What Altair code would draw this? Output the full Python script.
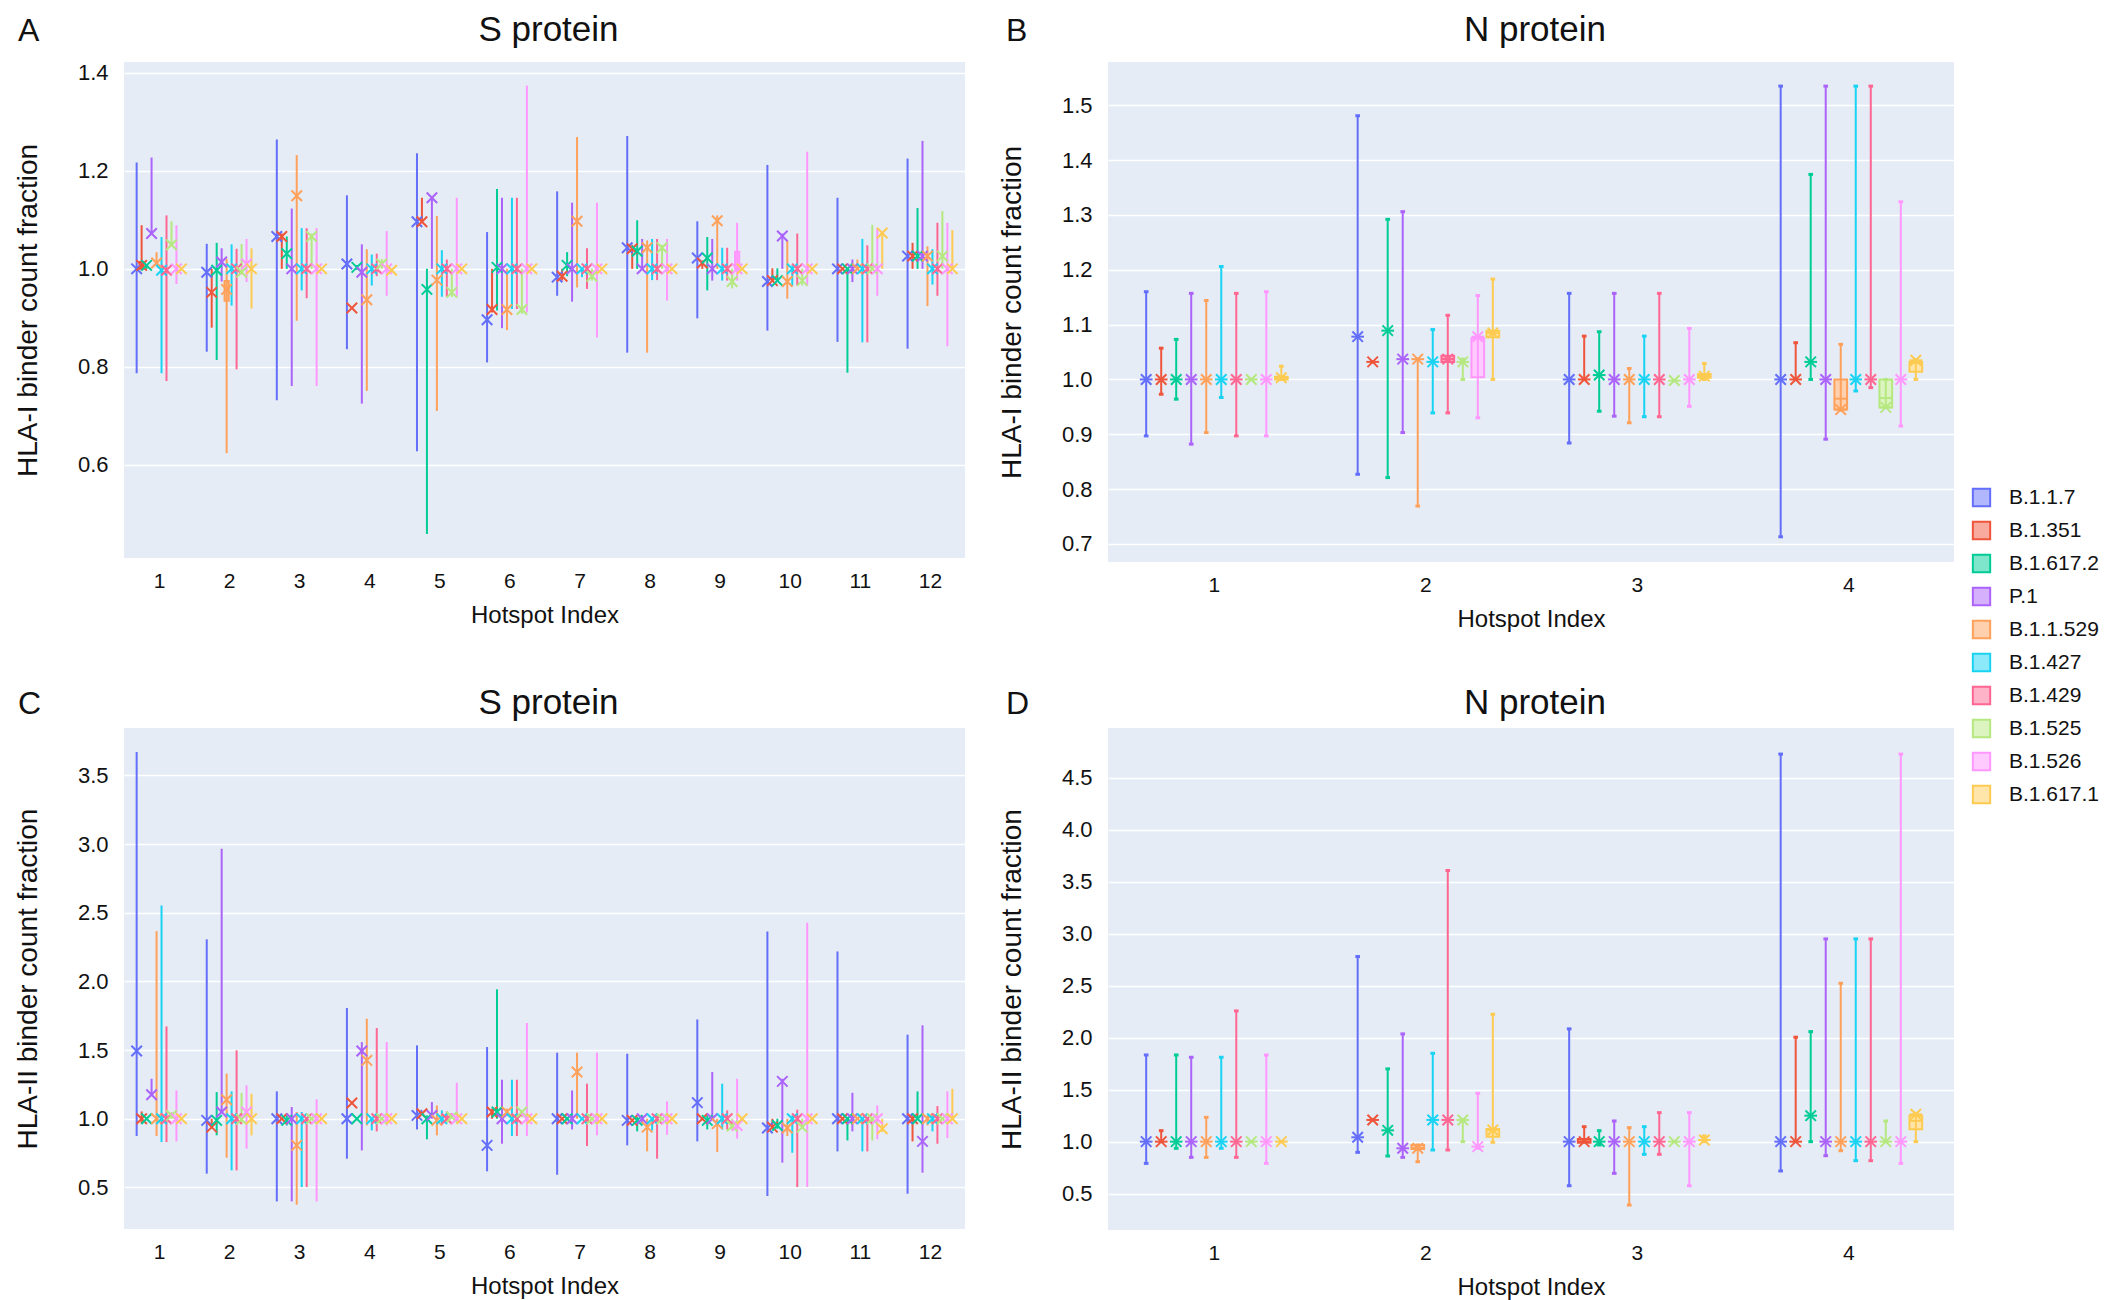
import altair as alt
import pandas as pd

FONT = "Liberation Sans"
VARIANTS = ["B.1.1.7", "B.1.351", "B.1.617.2", "P.1", "B.1.1.529",
            "B.1.427", "B.1.429", "B.1.525", "B.1.526", "B.1.617.1"]
COLORS = ["#636EFA", "#EF553B", "#00CC96", "#AB63FA", "#FFA15A",
          "#19D3F3", "#FF6692", "#B6E880", "#FF97FF", "#FECB52"]
# the same colours at half strength, used for box / legend fills
LIGHT = ["#B1B7FD", "#F7AA9D", "#80E6CB", "#D5B1FD", "#FFD0AD",
         "#8CE9F9", "#FFB3C9", "#DBF4C0", "#FFCBFF", "#FFE5A9"]

# ---------------- Panel A : S protein, HLA-I ----------------
A_MAX = [
    [1.217, 1.089, 1.010, 1.227, 1.034, 1.065, 1.109, 1.097, 1.089, 1.000],
    [1.051, 1.000, 1.053, 1.042, 1.020, 1.050, 1.041, 1.051, 1.061, 1.042],
    [1.264, 1.072, 1.066, 1.123, 1.232, 1.083, 1.083, 1.072, 1.083, 1.000],
    [1.150, 0.920, 1.008, 1.050, 1.040, 1.029, 1.031, 1.020, 1.077, 1.000],
    [1.236, 1.145, 1.000, 1.145, 1.108, 1.038, 1.019, 1.000, 1.145, 1.000],
    [1.075, 1.000, 1.163, 1.145, 1.000, 1.145, 1.145, 1.000, 1.374, 1.000],
    [1.158, 1.000, 1.034, 1.135, 1.269, 1.000, 1.042, 1.000, 1.135, 1.000],
    [1.271, 1.049, 1.099, 1.061, 1.058, 1.061, 1.061, 1.049, 1.061, 1.000],
    [1.097, 1.017, 1.065, 1.061, 1.109, 1.043, 1.043, 1.000, 1.094, 1.000],
    [1.212, 1.001, 1.001, 1.072, 1.058, 1.007, 1.072, 1.000, 1.239, 1.000],
    [1.145, 1.000, 1.000, 1.019, 1.019, 1.061, 1.048, 1.090, 1.083, 1.073],
    [1.225, 1.053, 1.124, 1.261, 1.046, 1.040, 1.094, 1.118, 1.094, 1.079],
]
A_MIN = [
    [0.787, 0.997, 1.000, 1.072, 1.007, 0.787, 0.771, 1.048, 0.969, 1.000],
    [0.831, 0.880, 0.814, 0.974, 0.624, 0.925, 0.795, 0.990, 0.973, 0.919],
    [0.732, 1.000, 1.000, 0.761, 0.894, 0.956, 0.940, 1.000, 0.761, 1.000],
    [0.836, 0.920, 0.998, 0.725, 0.751, 0.966, 0.985, 1.000, 0.945, 0.995],
    [0.628, 1.096, 0.459, 1.000, 0.710, 0.943, 0.943, 0.943, 0.943, 1.000],
    [0.809, 0.911, 0.915, 0.879, 0.875, 0.918, 0.918, 0.908, 0.911, 1.000],
    [0.945, 0.976, 0.985, 0.933, 0.962, 0.983, 0.959, 0.976, 0.860, 1.000],
    [0.829, 1.000, 1.000, 1.000, 0.829, 0.977, 0.977, 1.000, 0.935, 1.000],
    [0.899, 1.000, 0.956, 0.976, 1.000, 0.976, 0.976, 0.960, 0.976, 1.000],
    [0.874, 0.974, 0.974, 1.000, 0.939, 0.966, 0.966, 0.966, 0.966, 1.000],
    [0.851, 1.000, 0.788, 0.973, 1.000, 0.850, 0.850, 1.000, 0.945, 1.000],
    [0.837, 1.000, 1.000, 1.000, 0.924, 0.968, 0.945, 1.000, 0.842, 1.000],
]
A_MARK = [
    [1.000, 1.007, 1.007, 1.072, 1.012, 0.997, 0.997, 1.049, 1.000, 1.000],
    [0.993, 0.952, 0.997, 1.014, 0.958, 1.000, 1.000, 0.993, 1.010, 1.000],
    [1.066, 1.066, 1.031, 1.000, 1.149, 1.000, 1.000, 1.066, 1.000, 1.000],
    [1.010, 0.920, 1.003, 0.993, 0.937, 1.000, 1.000, 1.010, 1.000, 0.997],
    [1.096, 1.096, 0.958, 1.145, 0.977, 1.000, 1.000, 0.952, 1.000, 1.000],
    [0.896, 0.917, 1.003, 1.000, 0.917, 1.000, 1.000, 0.917, 1.000, 1.000],
    [0.983, 0.985, 1.007, 1.000, 1.097, 1.000, 1.000, 0.985, 1.000, 1.000],
    [1.043, 1.041, 1.036, 1.000, 1.043, 1.000, 1.000, 1.043, 1.000, 1.000],
    [1.022, 1.012, 1.022, 1.000, 1.098, 1.000, 1.000, 0.974, 1.000, 1.000],
    [0.974, 0.976, 0.976, 1.067, 0.974, 1.000, 1.000, 0.976, 1.000, 1.000],
    [1.000, 1.000, 1.000, 1.000, 1.000, 1.000, 1.000, 1.000, 1.000, 1.073],
    [1.026, 1.026, 1.026, 1.026, 1.026, 1.000, 1.000, 1.026, 1.000, 1.000],
]
# (hotspot, variant index, q1, median, q3)
A_BOX = [(1, 1, 1.000, 1.007, 1.014), (2, 4, 0.935, 0.958, 0.975), (9, 8, 1.000, 1.000, 1.035)]

# ---------------- Panel B : N protein, HLA-I ----------------
B_MAX = [
    [1.160, 1.057, 1.073, 1.157, 1.144, 1.206, 1.157, 1.000, 1.160, 1.024],
    [1.481, 1.032, 1.292, 1.306, 1.037, 1.091, 1.117, 1.037, 1.153, 1.183],
    [1.157, 1.079, 1.087, 1.157, 1.020, 1.079, 1.157, 0.998, 1.093, 1.029],
    [1.535, 1.067, 1.374, 1.535, 1.064, 1.535, 1.535, 1.000, 1.324, 1.036],
]
B_MIN = [
    [0.897, 0.973, 0.964, 0.882, 0.903, 0.967, 0.897, 1.000, 0.897, 1.000],
    [0.827, 1.032, 0.821, 0.903, 0.769, 0.939, 0.939, 1.000, 0.930, 1.000],
    [0.884, 1.000, 0.942, 0.933, 0.921, 0.932, 0.932, 0.998, 0.951, 1.000],
    [0.713, 1.000, 1.000, 0.891, 0.944, 0.979, 0.985, 0.949, 0.915, 1.000],
]
B_MARK = [
    [1.000, 1.000, 1.000, 1.000, 1.000, 1.000, 1.000, 1.000, 1.000, 1.003],
    [1.078, 1.032, 1.089, 1.037, 1.037, 1.032, 1.037, 1.032, 1.078, 1.085],
    [1.000, 1.000, 1.008, 1.000, 1.000, 1.000, 1.000, 0.998, 1.000, 1.006],
    [1.000, 1.000, 1.032, 1.000, 0.945, 1.000, 1.000, 0.949, 1.000, 1.035],
]
B_BOX = [(1, 9, 1.000, 1.003, 1.005), (2, 6, 1.032, 1.037, 1.043), (2, 8, 1.004, 1.075, 1.075),
         (2, 9, 1.077, 1.085, 1.089), (3, 9, 1.003, 1.006, 1.010), (4, 4, 0.945, 0.965, 1.000),
         (4, 7, 0.949, 0.966, 1.000), (4, 9, 1.014, 1.030, 1.032)]

# ---------------- Panel C : S protein, HLA-II ----------------
C_MAX = [
    [3.670, 1.053, 1.000, 1.291, 2.366, 2.553, 1.672, 1.049, 1.206, 1.000],
    [2.306, 1.000, 1.194, 2.966, 1.328, 1.199, 1.498, 1.189, 1.243, 1.182],
    [1.199, 1.000, 1.024, 1.085, 1.049, 1.049, 1.000, 1.000, 1.141, 1.000],
    [1.806, 1.114, 1.000, 1.558, 1.728, 1.000, 1.660, 1.000, 1.558, 1.000],
    [1.534, 1.036, 1.024, 1.121, 1.097, 1.061, 1.053, 1.036, 1.262, 1.000],
    [1.522, 1.073, 1.942, 1.284, 1.073, 1.284, 1.284, 1.061, 1.697, 1.000],
    [1.481, 1.000, 1.000, 1.206, 1.481, 1.000, 1.255, 1.000, 1.481, 1.000],
    [1.473, 1.000, 1.012, 1.024, 1.000, 1.012, 1.024, 1.000, 1.126, 1.000],
    [1.723, 1.000, 1.024, 1.340, 1.000, 1.255, 1.061, 1.000, 1.291, 1.000],
    [2.364, 1.000, 1.000, 1.291, 1.000, 1.024, 1.066, 1.000, 2.427, 1.000],
    [2.218, 1.000, 1.000, 1.189, 1.000, 1.012, 1.012, 1.000, 1.097, 1.000],
    [1.612, 1.024, 1.199, 1.680, 1.024, 1.024, 1.092, 1.000, 1.199, 1.218],
]
C_MIN = [
    [0.874, 0.964, 1.000, 1.170, 0.874, 0.830, 0.830, 1.000, 0.835, 1.000],
    [0.600, 0.927, 0.879, 1.049, 0.716, 0.624, 0.624, 0.964, 0.782, 0.879],
    [0.398, 1.000, 0.951, 0.398, 0.374, 0.502, 0.502, 1.000, 0.398, 1.000],
    [0.709, 1.114, 1.000, 0.769, 0.951, 0.915, 0.908, 1.000, 0.951, 1.000],
    [0.922, 1.036, 0.850, 1.000, 0.879, 0.964, 0.976, 1.000, 0.976, 1.000],
    [0.617, 1.000, 1.000, 0.818, 1.024, 0.874, 0.874, 1.012, 0.874, 1.000],
    [0.592, 1.000, 1.000, 0.922, 1.000, 1.000, 0.801, 1.000, 0.879, 1.000],
    [0.806, 0.988, 0.908, 0.964, 0.762, 0.915, 0.709, 1.000, 0.883, 1.000],
    [0.835, 1.000, 0.922, 1.000, 0.757, 0.922, 0.922, 0.915, 0.854, 1.000],
    [0.437, 0.927, 0.927, 0.680, 0.874, 0.752, 0.502, 0.927, 0.502, 1.000],
    [0.762, 1.000, 0.842, 0.908, 1.000, 0.762, 0.762, 0.842, 0.850, 0.903],
    [0.454, 0.835, 1.000, 0.607, 0.951, 0.908, 0.818, 1.000, 0.859, 1.000],
]
C_MARK = [
    [1.493, 1.000, 1.000, 1.175, 1.000, 1.000, 1.000, 1.024, 1.000, 1.000],
    [0.988, 0.939, 0.988, 1.049, 1.138, 1.000, 1.000, 0.995, 1.049, 1.000],
    [1.000, 1.000, 0.988, 1.000, 0.806, 1.000, 1.000, 1.000, 1.000, 1.000],
    [1.000, 1.114, 1.000, 1.493, 1.425, 1.000, 1.000, 1.000, 1.000, 1.000],
    [1.024, 1.036, 1.000, 1.024, 0.988, 1.000, 1.000, 1.012, 1.000, 1.000],
    [0.806, 1.049, 1.049, 1.000, 1.049, 1.000, 1.000, 1.049, 1.000, 1.000],
    [1.000, 1.000, 1.000, 1.000, 1.340, 1.000, 1.000, 1.000, 1.000, 1.000],
    [0.988, 0.988, 0.988, 1.000, 0.939, 1.000, 1.000, 1.000, 1.000, 1.000],
    [1.117, 1.000, 0.988, 1.000, 0.964, 1.000, 1.000, 0.947, 0.951, 1.000],
    [0.932, 0.939, 0.951, 1.272, 0.932, 1.000, 1.000, 0.939, 1.000, 1.000],
    [1.000, 1.000, 1.000, 1.000, 1.000, 1.000, 1.000, 1.000, 1.000, 0.927],
    [1.000, 1.000, 1.000, 0.835, 1.000, 1.000, 1.000, 1.000, 1.000, 1.000],
]
C_BOX = []

# ---------------- Panel D : N protein, HLA-II ----------------
D_MAX = [
    [1.834, 1.106, 1.834, 1.812, 1.234, 1.812, 2.258, 1.000, 1.834, 1.000],
    [2.781, 1.209, 1.700, 2.037, 0.968, 1.850, 3.609, 1.209, 1.465, 2.226],
    [2.085, 1.144, 1.106, 1.199, 1.135, 1.144, 1.279, 1.000, 1.279, 1.055],
    [4.729, 2.005, 2.059, 2.951, 2.524, 2.951, 2.951, 1.199, 4.729, 1.273],
]
D_MIN = [
    [0.791, 1.000, 0.936, 0.849, 0.849, 0.936, 0.849, 1.000, 0.791, 1.000],
    [0.897, 1.209, 0.862, 0.849, 0.807, 0.920, 0.920, 1.000, 0.936, 0.994],
    [0.576, 1.000, 0.968, 0.695, 0.390, 0.878, 0.878, 1.000, 0.576, 1.000],
    [0.718, 1.000, 1.000, 0.865, 0.913, 0.817, 0.817, 1.000, 0.791, 1.000],
]
D_MARK = [
    [1.000, 1.000, 1.000, 1.000, 1.000, 1.000, 1.000, 1.000, 1.000, 1.000],
    [1.042, 1.209, 1.109, 0.936, 0.936, 1.209, 1.209, 1.209, 0.952, 1.112],
    [1.000, 1.000, 1.000, 1.000, 1.000, 1.000, 1.000, 1.000, 1.000, 1.016],
    [1.000, 1.000, 1.250, 1.000, 1.000, 1.000, 1.000, 1.000, 1.000, 1.263],
]
D_BOX = [(2, 4, 0.930, 0.936, 0.968), (2, 9, 1.048, 1.112, 1.122),
         (3, 1, 0.990, 1.000, 1.025), (4, 9, 1.119, 1.200, 1.250)]

STEP = 0.071      # offset between variants inside a hotspot group (x units)
XSHAPE = "M-1,-1L1,1M-1,1L1,-1"

# one legend definition shared by every colour encoding, so they all merge
LEG = alt.Legend(orient="right", offset=17, title=" ", titleFontSize=1,
                 titlePadding=424, padding=0,
                 symbolType="square", symbolSize=300, symbolStrokeWidth=2,
                 labelFontSize=21, labelFont=FONT, labelOffset=17,
                 rowPadding=6, labelColor="#111")


def long_df(maxs, mins, marks):
    rows = []
    for h, (mx, mn, mk) in enumerate(zip(maxs, mins, marks), start=1):
        for i in range(len(VARIANTS)):
            rows.append({"hotspot": h, "vi": i, "variant": VARIANTS[i],
                         "lo": mn[i], "hi": mx[i], "mark": mk[i]})
    return pd.DataFrame(rows)


def box_df(boxes):
    rows = [{"hotspot": h, "vi": i, "variant": VARIANTS[i], "q1": a, "med": m, "q3": b}
            for (h, i, a, m, b) in boxes]
    if not rows:
        rows = [{"hotspot": 1, "vi": 0, "variant": VARIANTS[0], "q1": None, "med": None, "q3": None}]
    return pd.DataFrame(rows)


def stroke_enc():
    return alt.Stroke("variant:N", scale=alt.Scale(domain=VARIANTS, range=COLORS), legend=LEG)


def fill_enc():
    return alt.Fill("variant:N", scale=alt.Scale(domain=VARIANTS, range=LIGHT), legend=LEG)


def panel(df, bdf, n, width, height, ydom, yvals, ytitle, letter, title,
          letter_x, text_y, whisker_caps):
    xaxis = alt.Axis(values=list(range(1, n + 1)), format="d", title="Hotspot Index",
                     grid=False, domain=False, ticks=False, labelAngle=0,
                     labelFontSize=21, labelPadding=12, titleFontSize=24,
                     titleFontWeight="normal",
                     titleY=45, titleBaseline="top", labelColor="#111", titleColor="#111")
    yaxis = alt.Axis(values=yvals, format=".1f", title=ytitle, grid=True,
                     domain=False, ticks=False, labelFontSize=22, labelPadding=16,
                     titleFontSize=28, titleFontWeight="normal",
                     titleX=-82, titleY=height / 2,
                     titleBaseline="bottom", gridColor="white", gridWidth=1.4,
                     labelColor="#111", titleColor="#111")
    xs = alt.Scale(domain=[0.5, n + 0.5], nice=False, zero=False)
    ys = alt.Scale(domain=ydom, nice=False, zero=False)
    pos_expr = f"datum.hotspot + (datum.vi - 4.5) * {STEP}"

    base = alt.Chart(df).transform_calculate(pos=pos_expr)
    bbase = alt.Chart(bdf).transform_calculate(pos=pos_expr).transform_calculate(
        b0="datum.pos - 0.03", b1="datum.pos + 0.03")

    boxes = bbase.mark_bar(strokeWidth=2).encode(
        x=alt.X("b0:Q", scale=xs, axis=xaxis), x2="b1:Q",
        y=alt.Y("q1:Q", scale=ys, axis=yaxis), y2="q3:Q",
        fill=fill_enc(), stroke=stroke_enc())

    rules = base.mark_rule(strokeWidth=2).encode(
        x=alt.X("pos:Q", scale=xs, axis=xaxis),
        y=alt.Y("lo:Q", scale=ys, axis=yaxis),
        y2="hi:Q", stroke=stroke_enc())

    medb = bbase.mark_rule(strokeWidth=2).encode(
        x=alt.X("b0:Q", scale=xs, axis=xaxis), x2="b1:Q",
        y=alt.Y("med:Q", scale=ys, axis=yaxis), stroke=stroke_enc())

    layers = [boxes, rules, medb]

    if whisker_caps:
        ebase = base.transform_calculate(b0="datum.pos - 0.03", b1="datum.pos + 0.03",
                                         c0="datum.pos - 0.011", c1="datum.pos + 0.011")
        med = ebase.mark_rule(strokeWidth=2).encode(
            x=alt.X("b0:Q", scale=xs, axis=xaxis), x2="b1:Q",
            y=alt.Y("mark:Q", scale=ys, axis=yaxis), stroke=stroke_enc())
        cap_hi = ebase.mark_rule(strokeWidth=3).encode(
            x=alt.X("c0:Q", scale=xs, axis=xaxis), x2="c1:Q",
            y=alt.Y("hi:Q", scale=ys, axis=yaxis), stroke=stroke_enc())
        cap_lo = ebase.mark_rule(strokeWidth=3).encode(
            x=alt.X("c0:Q", scale=xs, axis=xaxis), x2="c1:Q",
            y=alt.Y("lo:Q", scale=ys, axis=yaxis), stroke=stroke_enc())
        layers += [med, cap_hi, cap_lo]

    pts = base.mark_point(shape=XSHAPE, filled=False, size=110, strokeWidth=2, opacity=1).encode(
        x=alt.X("pos:Q", scale=xs, axis=xaxis),
        y=alt.Y("mark:Q", scale=ys, axis=yaxis), stroke=stroke_enc())
    layers.append(pts)

    lt = alt.Chart(pd.DataFrame({"t": [letter]})).mark_text(
        align="left", baseline="alphabetic", fontSize=32, font=FONT, color="#111").encode(
        text="t:N", x=alt.value(letter_x), y=alt.value(text_y))
    tt = alt.Chart(pd.DataFrame({"t": [title]})).mark_text(
        align="center", baseline="alphabetic", fontSize=35, font=FONT, color="#111").encode(
        text="t:N", x=alt.value(width / 2 + 4), y=alt.value(text_y))
    layers += [lt, tt]
    return alt.layer(*layers).properties(width=width, height=height)


pA = panel(long_df(A_MAX, A_MIN, A_MARK), box_df(A_BOX), 12, 841, 496, [0.41, 1.422],
           [0.6, 0.8, 1.0, 1.2, 1.4], "HLA-I binder count fraction", "A", "S protein",
           -106, -21, False)
pB = panel(long_df(B_MAX, B_MIN, B_MARK), box_df(B_BOX), 4, 846, 500, [0.667, 1.579],
           [0.7, 0.8, 0.9, 1.0, 1.1, 1.2, 1.3, 1.4, 1.5], "HLA-I binder count fraction", "B",
           "N protein", -102, -21, True)
pC = panel(long_df(C_MAX, C_MIN, C_MARK), box_df(C_BOX), 12, 841, 501, [0.197, 3.845],
           [0.5, 1.0, 1.5, 2.0, 2.5, 3.0, 3.5], "HLA-II binder count fraction", "C", "S protein",
           -106, -14, False)
pD = panel(long_df(D_MAX, D_MIN, D_MARK), box_df(D_BOX), 4, 846, 502, [0.15, 4.98],
           [0.5, 1.0, 1.5, 2.0, 2.5, 3.0, 3.5, 4.0, 4.5], "HLA-II binder count fraction", "D",
           "N protein", -102, -14, True)

chart = alt.concat(pA, pB, pC, pD, columns=2,
                   spacing={"row": 166, "column": 143}).properties(
    bounds="flush", padding=5
).resolve_scale(x="independent", y="independent").configure_view(
    fill="#E5ECF6", stroke=None
).configure_axis(labelFont=FONT, titleFont=FONT).configure_text(font=FONT)

chart.save("out.html", embed_options={"renderer": "svg", "actions": False})
